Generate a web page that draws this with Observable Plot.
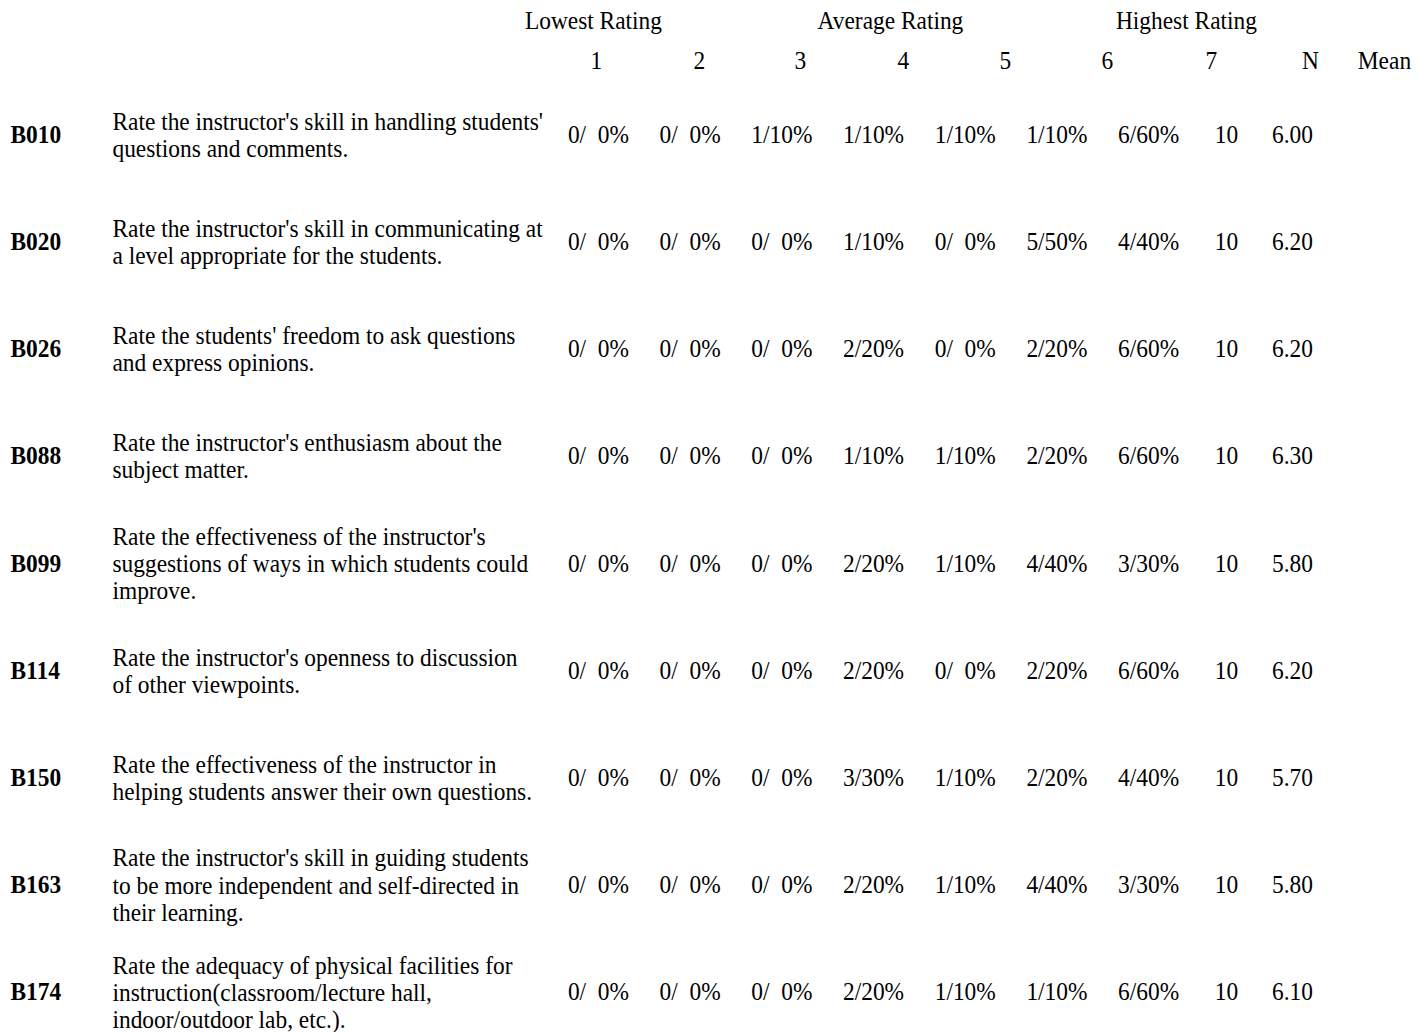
<!DOCTYPE html>
<html>
<head>
<meta charset="utf-8">
<script src="https://cdn.jsdelivr.net/npm/d3@7"></script>
<script src="https://cdn.jsdelivr.net/npm/@observablehq/plot@0.6"></script>
<style>
  html, body { margin: 0; padding: 0; background: #fff; }
  #chart svg { display: block; }
</style>
</head>
<body>
<div id="chart"></div>
<script>
// ---- data ----
const groupLabels = ["Lowest Rating", "Average Rating", "Highest Rating"];
const columnLabels = ["1", "2", "3", "4", "5", "6", "7", "N", "Mean"];
const codes = ["B010", "B020", "B026", "B088", "B099", "B114", "B150", "B163", "B174"];
const questions = [
  "Rate the instructor's skill in handling students'\nquestions and comments.",
  "Rate the instructor's skill in communicating at\na level appropriate for the students.",
  "Rate the students' freedom to ask questions\nand express opinions.",
  "Rate the instructor's enthusiasm about the\nsubject matter.",
  "Rate the effectiveness of the instructor's\nsuggestions of ways in which students could\nimprove.",
  "Rate the instructor's openness to discussion\nof other viewpoints.",
  "Rate the effectiveness of the instructor in\nhelping students answer their own questions.",
  "Rate the instructor's skill in guiding students\nto be more independent and self-directed in\ntheir learning.",
  "Rate the adequacy of physical facilities for\ninstruction(classroom/lecture hall,\nindoor/outdoor lab, etc.)."
];
const counts = [
  [0, 0, 1, 1, 1, 1, 6],
  [0, 0, 0, 1, 0, 5, 4],
  [0, 0, 0, 2, 0, 2, 6],
  [0, 0, 0, 1, 1, 2, 6],
  [0, 0, 0, 2, 1, 4, 3],
  [0, 0, 0, 2, 0, 2, 6],
  [0, 0, 0, 3, 1, 2, 4],
  [0, 0, 0, 2, 1, 4, 3],
  [0, 0, 0, 2, 1, 1, 6]
];
const nValues = [10, 10, 10, 10, 10, 10, 10, 10, 10];
const means = [6.00, 6.20, 6.20, 6.30, 5.80, 6.20, 5.70, 5.80, 6.10];

// ---- layout (pixel positions in the 1420 x 1032 frame) ----
const W = 1420, H = 1032;
const SQUEEZE = 0.9;            // condensed look of the reference typeface
const VW = W / SQUEEZE;         // virtual drawing width, squeezed back to W
const L = {
  groupY: 20, colY: 60,
  groupX: [593, 890, 1186],
  colX: [596, 699, 800, 903, 1005, 1107, 1211, 1310, 1384],
  codeX: 10, questionX: 112,
  rowY0: 134, rowStep: 107.2,
  cellX0: 598, cellStep: 91.7, nX: 1226, meanX: 1292
};
const rowY = i => L.rowY0 + i * L.rowStep;

const groupData = groupLabels.map((t, i) => ({t, x: L.groupX[i], y: L.groupY}));
const colData = columnLabels.map((t, i) => ({t, x: L.colX[i], y: L.colY}));
const rowData = codes.map((c, i) => ({code: c, q: questions[i], y: rowY(i)}));
const cellData = [];
counts.forEach((row, i) => {
  row.forEach((c, j) => {
    const pct = String(Math.round(c / nValues[i] * 100));
    cellData.push({t: `${c}/${pct.padStart(2, "\u2007")}%`, x: L.cellX0 + j * L.cellStep, y: rowY(i)});
  });
  cellData.push({t: String(nValues[i]), x: L.nX, y: rowY(i)});
  cellData.push({t: means[i].toFixed(2), x: L.meanX, y: rowY(i)});
});

const font = {fontFamily: "'Liberation Serif', 'Times New Roman', serif", fill: "#000"};
const fs = 26;

const chart = Plot.plot({
  width: VW, height: H,
  margin: 0,
  x: {type: "linear", domain: [0, W], range: [0, VW], axis: null},
  y: {type: "linear", domain: [0, H], range: [0, H], axis: null},
  style: {fontFamily: font.fontFamily, background: "#fff"},
  marks: [
    Plot.text(groupData, {x: "x", y: "y", text: "t", fontSize: fs, textAnchor: "middle", ...font}),
    Plot.text(colData, {x: "x", y: "y", text: "t", fontSize: fs, textAnchor: "middle", ...font}),
    Plot.text(rowData, {x: () => L.codeX, y: "y", text: "code", fontSize: fs, fontWeight: "bold", textAnchor: "start", ...font}),
    Plot.text(rowData, {x: () => L.questionX, y: "y", text: "q", fontSize: fs, lineHeight: 1.05, textAnchor: "start", ...font}),
    Plot.text(cellData, {x: "x", y: "y", text: "t", fontSize: fs, textAnchor: "middle", ...font})
  ]
});
chart.setAttribute("width", W);
chart.setAttribute("height", H);
chart.setAttribute("preserveAspectRatio", "none");
chart.style.width = W + "px";
chart.style.height = H + "px";
chart.style.maxWidth = "none";
document.getElementById("chart").appendChild(chart);
</script>
</body>
</html>
